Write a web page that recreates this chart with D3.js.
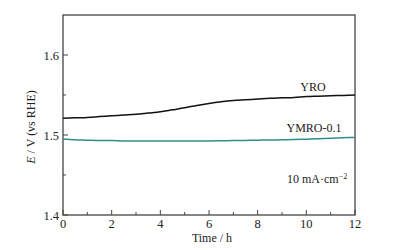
<!DOCTYPE html>
<html><head><meta charset="utf-8">
<script src="https://cdn.jsdelivr.net/npm/d3@7"></script>
<style>body{margin:0;background:#fff}svg{display:block}text{font-family:"Liberation Serif","DejaVu Serif",serif;fill:#222}</style>
</head><body><svg id="c" width="394" height="250"></svg>
<script>
const timeH = [0,0.5,1,1.5,2,2.5,3,3.5,4,4.5,5,5.5,6,6.5,7,7.5,8,8.5,9,9.5,10,10.5,11,11.5,12];
const yro   = [1.521,1.5215,1.522,1.523,1.524,1.525,1.526,1.5275,1.529,1.5315,1.534,1.537,1.5395,1.5415,1.543,1.544,1.545,1.546,1.5465,1.547,1.548,1.5485,1.549,1.5495,1.550];
const ymro  = [1.495,1.494,1.4935,1.493,1.493,1.4925,1.4925,1.4925,1.4925,1.4925,1.4925,1.4925,1.4925,1.4928,1.493,1.4932,1.4935,1.4938,1.494,1.4943,1.4948,1.4953,1.496,1.4965,1.497];
const seriesNames = ["YRO","YMRO-0.1"];
const xTicks = [0,2,4,6,8,10,12];
const yTicks = [1.4,1.5,1.6];

const svg = d3.select("#c");
const m = {l:63, r:355, t:15, b:215};
const x = d3.scaleLinear().domain([0,12]).range([m.l,m.r]);
const y = d3.scaleLinear().domain([1.4,1.65]).range([m.b,m.t]);
const axisCol = "#444";

svg.append("rect").attr("x",m.l).attr("y",m.t).attr("width",m.r-m.l).attr("height",m.b-m.t)
  .attr("fill","none").attr("stroke",axisCol).attr("stroke-width",1.3);

const gx = svg.append("g");
d3.range(0,13,1).forEach(v=>{
  const major = v%2===0;
  gx.append("line").attr("x1",x(v)).attr("x2",x(v)).attr("y1",m.b).attr("y2",m.b-(major?5:3))
    .attr("stroke",axisCol).attr("stroke-width",1);
});
xTicks.forEach(v=>{
  gx.append("text").attr("x",x(v)).attr("y",228).attr("text-anchor","middle").attr("font-size",12.5).text(v);
});
[1.4,1.45,1.5,1.55,1.6].forEach((v,i)=>{
  const major = i%2===0;
  svg.append("line").attr("x1",m.l).attr("x2",m.l+(major?5:3)).attr("y1",y(v)).attr("y2",y(v))
    .attr("stroke",axisCol).attr("stroke-width",1);
});
yTicks.forEach(v=>{
  svg.append("text").attr("x",m.l-4).attr("y",y(v)+4.5).attr("text-anchor","end").attr("font-size",12.5).text(v.toFixed(1));
});

svg.append("text").attr("x",(m.l+m.r)/2+3).attr("y",242).attr("text-anchor","middle").attr("font-size",12).text("Time / h");
const yt = svg.append("text").attr("transform","translate(35,127) rotate(-90)").attr("text-anchor","middle").attr("font-size",12);
yt.append("tspan").attr("font-style","italic").text("E");
yt.append("tspan").text(" / V (vs RHE)");

const line = d3.line().x((d,i)=>x(timeH[i])).y(d=>y(d)).curve(d3.curveMonotoneX);
svg.append("path").datum(yro).attr("d",line).attr("fill","none").attr("stroke","#111").attr("stroke-width",1.5);
svg.append("path").datum(ymro).attr("d",line).attr("fill","none").attr("stroke","#2e8f87").attr("stroke-width",1.5);

svg.append("text").attr("x",313).attr("y",91).attr("text-anchor","middle").attr("font-size",12).text(seriesNames[0]);
svg.append("text").attr("x",314).attr("y",132).attr("text-anchor","middle").attr("font-size",12).text(seriesNames[1]);
const t3 = svg.append("text").attr("x",287).attr("y",183).attr("font-size",12);
t3.append("tspan").text("10 mA\u00b7cm");
t3.append("tspan").attr("dy",-4).attr("font-size",8).text("\u22122");
</script></body></html>
